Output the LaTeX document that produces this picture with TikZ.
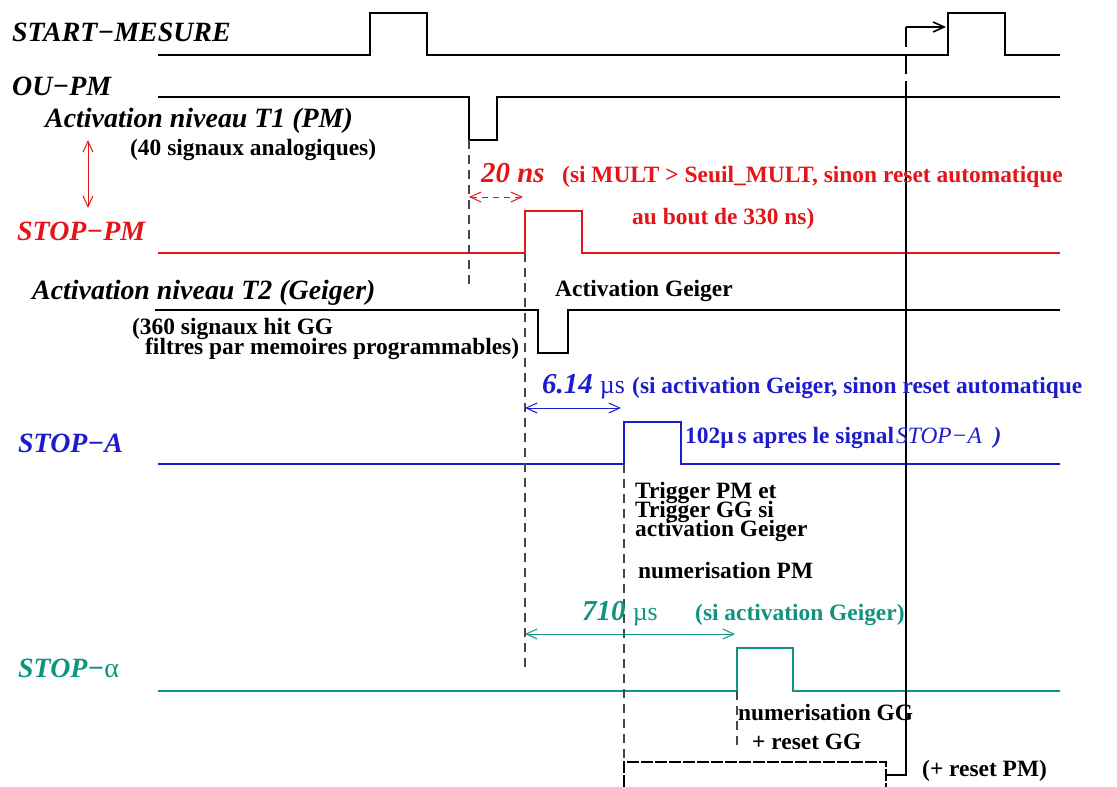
\documentclass[tikz,border=0pt]{standalone}
\usepackage{fontspec}
\setmainfont{Liberation Serif}
\usetikzlibrary{arrows.meta}
\definecolor{cred}{RGB}{228,20,24}
\definecolor{cblue}{RGB}{28,28,205}
\definecolor{cteal}{RGB}{16,148,128}
\definecolor{cgray}{RGB}{70,70,70}
\begin{document}
\begin{tikzpicture}[x=1bp,y=-1bp,
  sig/.style={line width=2.2bp, line join=miter},
  guide/.style={cgray, line width=1.3bp, dash pattern=on 9bp off 6bp},
  lab/.style={anchor=base west, inner sep=0pt, font=\fontsize{28}{30}\selectfont\bfseries\itshape},
  txt/.style={anchor=base west, inner sep=0pt, font=\fontsize{23.5}{26}\selectfont\bfseries},
  num/.style={anchor=base west, inner sep=0pt, font=\fontsize{29}{30}\selectfont\bfseries\itshape},
  dim/.style={line width=1bp, {Straight Barb[length=11bp,width=10bp]}-{Straight Barb[length=11bp,width=10bp]}},
]
\useasboundingbox (0,0) rectangle (1117,787);

% ---- waveforms
\draw[sig] (158,55) -- (370,55) -- (370,13) -- (427,13) -- (427,55) -- (948,55) -- (948,13) -- (1005,13) -- (1005,55) -- (1060,55);
\draw[sig] (158,97) -- (469,97) -- (469,140) -- (497,140) -- (497,97) -- (1060,97);
\draw[sig,cred] (158,253) -- (525,253) -- (525,211) -- (582,211) -- (582,253) -- (1060,253);
\draw[sig] (155,310) -- (538,310) -- (538,353) -- (568,353) -- (568,310) -- (1060,310);
\draw[sig,cblue] (158,464) -- (624,464) -- (624,422) -- (681,422) -- (681,464) -- (1060,464);
\draw[sig,cteal] (158,691) -- (737,691) -- (737,648) -- (793,648) -- (793,691) -- (1060,691);
\draw[line width=1.4bp, dash pattern=on 12bp off 2bp] (624,787) -- (624,762) -- (886,762) -- (886,787);

% ---- guide lines
\coordinate (g1t) at (469,140); \coordinate (g1b) at (469,285);
\coordinate (g2t) at (525,253); \coordinate (g2b) at (525,668);
\coordinate (g3t) at (624,464); \coordinate (g3b) at (624,762);
\coordinate (g4t) at (737,691); \coordinate (g4b) at (737,745);
\draw[guide] (g1t) -- (g1b);
\draw[guide] (g2t) -- (g2b);
\draw[guide] (g3t) -- (g3b);
\draw[guide] (g4t) -- (g4b);

% ---- reset path
\coordinate (r0) at (906,27); \coordinate (r1) at (946,27);
\coordinate (r2) at (906,97); \coordinate (r3) at (906,775); \coordinate (r4) at (886,775);
\draw[line width=1.8bp, dash pattern=on 20bp off 7bp] (r0) -- (r2);
\draw[line width=1.6bp, -{Straight Barb[length=11bp,width=10bp]}] (r0) -- (r1);
\draw[line width=2.2bp] (r2) -- (r3) -- (r4);

% ---- dimension arrows
\coordinate (a1t) at (88,140); \coordinate (a1b) at (88,208);
\draw[dim,cred] (a1t) -- (a1b);
\coordinate (d1l) at (469,197); \coordinate (d1r) at (523,197);
\draw[dim,cred,dash pattern=on 6bp off 5bp] (d1l) -- (d1r);
\coordinate (d2l) at (525,408); \coordinate (d2r) at (621,408);
\draw[dim,cblue] (d2l) -- (d2r);
\coordinate (d3l) at (525,634); \coordinate (d3r) at (735,634);
\draw[dim,cteal] (d3l) -- (d3r);

% ---- labels
\node[lab] (lstart) at (12,42) {START−MESURE};
\node[lab] (loupm) at (12,96) {OU−PM};
\node[lab] (lt1) at (45,127) {Activation niveau T1 (PM)};
\node[txt] (l40) at (130,155) {(40 signaux analogiques)};
\node[lab,cred] (lstoppm) at (17,240) {STOP−PM};
\node[num,cred] (l20) at (481,182) {20 ns};
\node[txt,cred] (lmult) at (562,182) {(si MULT > Seuil\_MULT, sinon reset automatique};
\node[txt,cred] (l330) at (632,224) {au bout de 330 ns)};
\node[lab] (lt2) at (32,299) {Activation niveau T2 (Geiger)};
\node[txt] (lactg) at (555,296) {Activation Geiger};
\node[txt] (l360) at (132,334) {(360 signaux hit GG};
\node[txt] (lfil) at (145,354) {filtres par memoires programmables)};
\node[num,cblue] (l614) at (542,393) {6.14 {\mdseries\upshape\fontsize{26}{28}\selectfont µs}};
\node[txt,cblue] (lsiact) at (632,393) {(si activation Geiger, sinon reset automatique};
\node[txt,cblue] (l102) at (685,443) {102µ\,s apres le signal};
\node[anchor=base west, inner sep=0pt, font=\fontsize{23.5}{26}\selectfont\itshape, cblue] (l102b) at (896,443) {STOP−A\ \ \textbf{)}};
\node[lab,cblue] (lstopa) at (18,452) {STOP−A};
\node[txt] (ltr1) at (635,498) {Trigger PM et};
\node[txt] (ltr2) at (635,517) {Trigger GG si};
\node[txt] (ltr3) at (635,536) {activation Geiger};
\node[txt] (lnumpm) at (638,578) {numerisation PM};
\node[num,cteal] (l710) at (582,620) {710 {\mdseries\upshape\fontsize{26}{28}\selectfont µs}};
\node[txt,cteal] (lsiag) at (695,620) {(si activation Geiger)};
\node[lab,cteal] (lstopal) at (18,677) {STOP−{\mdseries\upshape α}};
\node[txt] (lnumgg) at (738,720) {numerisation GG};
\node[txt] (lrgg) at (752,749) {+ reset GG};
\node[txt] (lrpm) at (922,776) {(+ reset PM)};
\end{tikzpicture}
\end{document}
